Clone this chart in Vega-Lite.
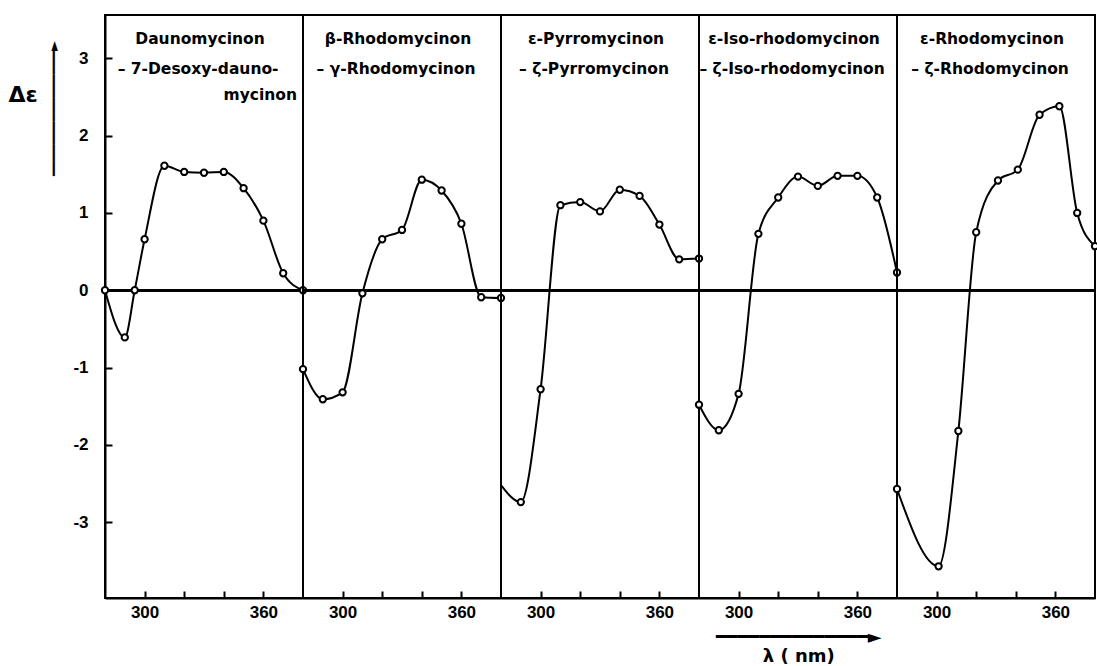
{
  "$schema": "https://vega.github.io/schema/vega-lite/v6.json",
  "background": "white",
  "padding": {"left": 8, "top": 13, "right": 0, "bottom": 5},
  "bounds": "flush",
  "config": {
    "view": {"stroke": "black", "strokeWidth": 2},
    "font": "Liberation Sans"
  },
  "title": {
    "text": ["━━━━━━━━━━━━━━►", "λ  ( nm)"],
    "orient": "bottom",
    "anchor": "middle",
    "dx": 243,
    "font": "DejaVu Sans",
    "fontSize": 18,
    "fontWeight": "bold",
    "lineHeight": 19,
    "offset": 9,
    "color": "black"
  },
  "data": {
    "values": [
      {"p": 1, "k": "c", "nm": 280, "de": 0, "m": 1},
      {"p": 1, "k": "c", "nm": 290, "de": -0.61, "m": 1},
      {"p": 1, "k": "c", "nm": 295, "de": 0, "m": 1},
      {"p": 1, "k": "c", "nm": 300, "de": 0.66, "m": 1},
      {"p": 1, "k": "c", "nm": 310, "de": 1.61, "m": 1},
      {"p": 1, "k": "c", "nm": 320, "de": 1.53, "m": 1},
      {"p": 1, "k": "c", "nm": 330, "de": 1.52, "m": 1},
      {"p": 1, "k": "c", "nm": 340, "de": 1.53, "m": 1},
      {"p": 1, "k": "c", "nm": 350, "de": 1.32, "m": 1},
      {"p": 1, "k": "c", "nm": 360, "de": 0.9, "m": 1},
      {"p": 1, "k": "c", "nm": 370, "de": 0.22, "m": 1},
      {"p": 1, "k": "c", "nm": 380, "de": 0, "m": 1},
      {"p": 2, "k": "c", "nm": 280, "de": -1.02, "m": 1},
      {"p": 2, "k": "c", "nm": 290, "de": -1.41, "m": 1},
      {"p": 2, "k": "c", "nm": 300, "de": -1.32, "m": 1},
      {"p": 2, "k": "c", "nm": 310, "de": -0.04, "m": 1},
      {"p": 2, "k": "c", "nm": 320, "de": 0.66, "m": 1},
      {"p": 2, "k": "c", "nm": 330, "de": 0.78, "m": 1},
      {"p": 2, "k": "c", "nm": 340, "de": 1.43, "m": 1},
      {"p": 2, "k": "c", "nm": 350, "de": 1.29, "m": 1},
      {"p": 2, "k": "c", "nm": 360, "de": 0.86, "m": 1},
      {"p": 2, "k": "c", "nm": 370, "de": -0.09, "m": 1},
      {"p": 2, "k": "c", "nm": 380, "de": -0.1, "m": 1},
      {"p": 3, "k": "c", "nm": 280, "de": -2.52, "m": 0},
      {"p": 3, "k": "c", "nm": 290, "de": -2.74, "m": 1},
      {"p": 3, "k": "c", "nm": 300, "de": -1.28, "m": 1},
      {"p": 3, "k": "c", "nm": 310, "de": 1.1, "m": 1},
      {"p": 3, "k": "c", "nm": 320, "de": 1.14, "m": 1},
      {"p": 3, "k": "c", "nm": 330, "de": 1.02, "m": 1},
      {"p": 3, "k": "c", "nm": 340, "de": 1.3, "m": 1},
      {"p": 3, "k": "c", "nm": 350, "de": 1.22, "m": 1},
      {"p": 3, "k": "c", "nm": 360, "de": 0.85, "m": 1},
      {"p": 3, "k": "c", "nm": 370, "de": 0.4, "m": 1},
      {"p": 3, "k": "c", "nm": 380, "de": 0.41, "m": 1},
      {"p": 4, "k": "c", "nm": 280, "de": -1.48, "m": 1},
      {"p": 4, "k": "c", "nm": 290, "de": -1.81, "m": 1},
      {"p": 4, "k": "c", "nm": 300, "de": -1.34, "m": 1},
      {"p": 4, "k": "c", "nm": 310, "de": 0.73, "m": 1},
      {"p": 4, "k": "c", "nm": 320, "de": 1.2, "m": 1},
      {"p": 4, "k": "c", "nm": 330, "de": 1.47, "m": 1},
      {"p": 4, "k": "c", "nm": 340, "de": 1.35, "m": 1},
      {"p": 4, "k": "c", "nm": 350, "de": 1.48, "m": 1},
      {"p": 4, "k": "c", "nm": 360, "de": 1.48, "m": 1},
      {"p": 4, "k": "c", "nm": 370, "de": 1.2, "m": 1},
      {"p": 4, "k": "c", "nm": 380, "de": 0.23, "m": 1},
      {"p": 5, "k": "c", "nm": 280, "de": -2.57, "m": 1},
      {"p": 5, "k": "c", "nm": 301, "de": -3.57, "m": 1},
      {"p": 5, "k": "c", "nm": 311, "de": -1.82, "m": 1},
      {"p": 5, "k": "c", "nm": 320, "de": 0.75, "m": 1},
      {"p": 5, "k": "c", "nm": 331, "de": 1.42, "m": 1},
      {"p": 5, "k": "c", "nm": 341, "de": 1.56, "m": 1},
      {"p": 5, "k": "c", "nm": 352, "de": 2.27, "m": 1},
      {"p": 5, "k": "c", "nm": 362, "de": 2.38, "m": 1},
      {"p": 5, "k": "c", "nm": 371, "de": 1.0, "m": 1},
      {"p": 5, "k": "c", "nm": 380, "de": 0.57, "m": 1},
      {"p": 1, "k": "l", "a": "Daunomycinon", "b": "– 7-Desoxy-dauno-", "c": "mycinon"},
      {"p": 2, "k": "l", "a": "β-Rhodomycinon", "b": "– γ-Rhodomycinon", "c": ""},
      {"p": 3, "k": "l", "a": "ε-Pyrromycinon", "b": "– ζ-Pyrromycinon", "c": ""},
      {"p": 4, "k": "l", "a": "ε-Iso-rhodomycinon", "b": "– ζ-Iso-rhodomycinon", "c": ""},
      {"p": 5, "k": "l", "a": "ε-Rhodomycinon", "b": "– ζ-Rhodomycinon", "c": ""}
    ]
  },
  "facet": {
    "row": {
      "field": "g", "type": "nominal",
      "header": {
        "labels": false,
        "title": ["", "", "", "Δε"],
        "titleOrient": "left",
        "titleAngle": 0,
        "titleAnchor": "end",
        "titleAlign": "right",
        "titleBaseline": "top",
        "titleLineHeight": 71,
        "titleFont": "DejaVu Sans", "titleFontSize": 22, "titleFontWeight": "bold", "titleColor": "black",
        "titlePadding": -31
      }
    },
    "column": {"field": "p", "type": "ordinal", "header": null}
  },
  "spacing": 0,
  "spec": {
    "width": 198,
    "height": 583,
    "layer": [
      {
        "mark": {"type": "rule", "color": "black", "strokeWidth": 2},
        "encoding": {"y": {"datum": 0, "type": "quantitative"}}
      },
      {
        "transform": [{"filter": "datum.k == 'c'"}],
        "mark": {"type": "line", "interpolate": "monotone", "color": "black", "strokeWidth": 2},
        "encoding": {
          "x": {
            "field": "nm", "type": "quantitative",
            "scale": {"domain": [280, 380], "nice": false, "zero": false},
            "axis": {
              "values": [300, 320, 340, 360],
              "tickSize": -7,
              "tickWidth": 2, "tickColor": "black",
              "domain": true, "domainWidth": 2, "domainColor": "black",
              "grid": false,
              "labelOverlap": false,
              "labelFlush": false,
              "labelExpr": "datum.value == 300 || datum.value == 360 ? datum.label : ''",
              "labelFont": "Liberation Sans", "labelFontSize": 17, "labelFontWeight": "bold", "labelColor": "black",
              "labelPadding": 13,
              "title": null
            }
          },
          "y": {
            "field": "de", "type": "quantitative",
            "scale": {"domain": [-3.98, 3.56], "nice": false, "zero": false},
            "axis": {
              "values": [-3, -2, -1, 0, 1, 2, 3],
              "labelExpr": "'' + datum.value",
              "tickSize": -7, "tickWidth": 2, "tickColor": "black",
              "domain": true, "domainWidth": 2, "domainColor": "black",
              "grid": false,
              "labelOverlap": false,
              "labelFont": "Liberation Sans", "labelFontSize": 17, "labelFontWeight": "bold", "labelColor": "black",
              "labelPadding": 24,
              "title": "━━━━━━━━━━━━━━━━►",
              "titleFont": "DejaVu Sans", "titleFontSize": 13, "titleFontWeight": "bold", "titleColor": "black",
              "titleAngle": -90, "titleAlign": "center", "titleBaseline": "middle",
              "titleX": -52, "titleY": 93
            }
          }
        }
      },
      {
        "transform": [{"filter": "datum.k == 'c' && datum.m == 1"}],
        "mark": {"type": "point", "filled": true, "fill": "white", "stroke": "black", "strokeWidth": 2, "size": 40, "opacity": 1},
        "encoding": {
          "x": {"field": "nm", "type": "quantitative"},
          "y": {"field": "de", "type": "quantitative"}
        }
      },
      {
        "transform": [{"filter": "datum.k == 'l'"}],
        "mark": {"type": "text", "align": "center", "baseline": "middle", "font": "DejaVu Sans", "fontSize": 15.5, "fontWeight": "bold", "color": "black"},
        "encoding": {
          "x": {"datum": 328, "type": "quantitative"},
          "y": {"datum": 3.25, "type": "quantitative"},
          "text": {"field": "a"}
        }
      },
      {
        "transform": [{"filter": "datum.k == 'l'"}],
        "mark": {"type": "text", "align": "center", "baseline": "middle", "font": "DejaVu Sans", "fontSize": 15.5, "fontWeight": "bold", "color": "black"},
        "encoding": {
          "x": {"datum": 327, "type": "quantitative"},
          "y": {"datum": 2.86, "type": "quantitative"},
          "text": {"field": "b"}
        }
      },
      {
        "transform": [{"filter": "datum.k == 'l'"}],
        "mark": {"type": "text", "align": "right", "baseline": "middle", "font": "DejaVu Sans", "fontSize": 15.5, "fontWeight": "bold", "color": "black"},
        "encoding": {
          "x": {"datum": 377, "type": "quantitative"},
          "y": {"datum": 2.525, "type": "quantitative"},
          "text": {"field": "c"}
        }
      }
    ]
  }
}
